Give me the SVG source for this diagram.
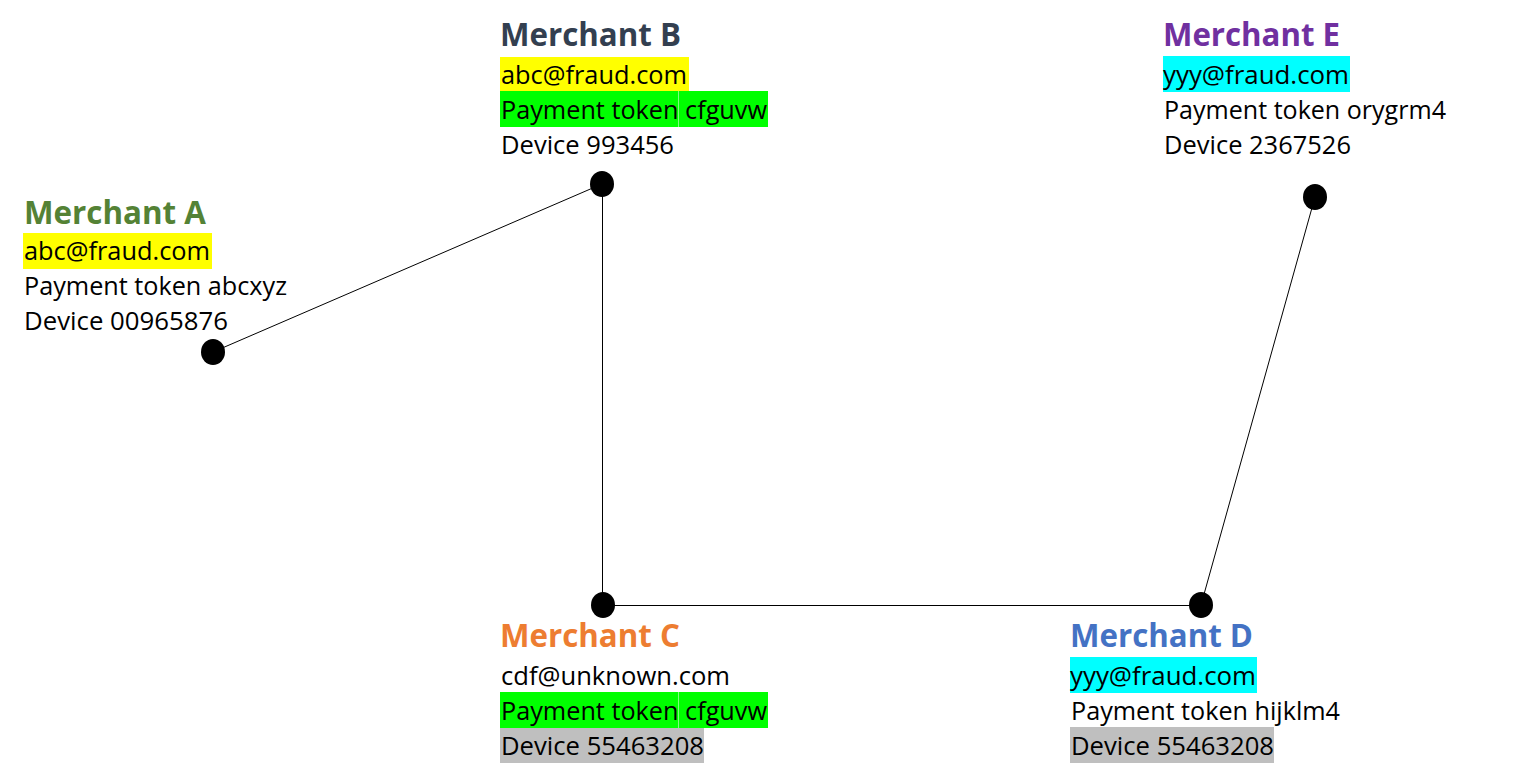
<svg xmlns="http://www.w3.org/2000/svg" width="1536" height="782" viewBox="0 0 1536 782">
<style>
text{font-family:"Open Sans","Noto Sans","Liberation Sans",sans-serif;}
.t{font-size:33px;font-weight:bold;}
.b{font-size:25px;fill:#000;}
.dot{fill:#000;}
.edge{stroke:#000;stroke-width:1;fill:none;}
.hy{fill:#FFFF00;}.hg{fill:#00FF00;}.hc{fill:#00FFFF;}.hs{fill:#BFBFBF;}
</style>
<rect width="1536" height="782" fill="#fff"/>
<g id="connectors">
<line class="edge" x1="213" y1="352" x2="602" y2="184"/>
<line class="edge" x1="602.5" y1="184" x2="602.5" y2="605"/>
<line class="edge" x1="602" y1="605.5" x2="1201" y2="605.5"/>
<line class="edge" x1="1201" y1="605" x2="1315" y2="197"/>
</g>
<g id="merchant-a">
<rect class="hy" x="23" y="233" width="189" height="36"/>
<text class="t" x="24" y="224" fill="#548235" textLength="182" lengthAdjust="spacingAndGlyphs">Merchant A</text>
<text class="b" x="24" y="260" textLength="186" lengthAdjust="spacingAndGlyphs">abc@fraud.com</text>
<text class="b" x="24" y="295" textLength="263" lengthAdjust="spacingAndGlyphs">Payment token abcxyz</text>
<text class="b" x="24" y="330" textLength="204" lengthAdjust="spacingAndGlyphs">Device 00965876</text>
<ellipse class="dot" cx="213" cy="352" rx="12" ry="13"/>
</g>
<g id="merchant-b">
<rect class="hy" x="500" y="57" width="189" height="34"/>
<rect class="hg" x="500" y="91" width="268" height="36"/>
<line x1="678.5" y1="91" x2="678.5" y2="127" stroke="#7fff7f" stroke-width="1"/>
<text class="t" x="500" y="46" fill="#333F50" textLength="181" lengthAdjust="spacingAndGlyphs">Merchant B</text>
<text class="b" x="501" y="84" textLength="186" lengthAdjust="spacingAndGlyphs">abc@fraud.com</text>
<text class="b" x="501" y="119" textLength="266" lengthAdjust="spacingAndGlyphs">Payment token cfguvw</text>
<text class="b" x="501" y="154" textLength="173" lengthAdjust="spacingAndGlyphs">Device 993456</text>
<ellipse class="dot" cx="602" cy="184" rx="12" ry="13"/>
</g>
<g id="merchant-c">
<rect class="hg" x="500" y="692" width="268" height="36"/>
<line x1="678.5" y1="692" x2="678.5" y2="728" stroke="#7fff7f" stroke-width="1"/>
<rect class="hs" x="500" y="728" width="204" height="35"/>
<text class="t" x="500" y="647" fill="#ED7D31" textLength="180" lengthAdjust="spacingAndGlyphs">Merchant C</text>
<text class="b" x="501" y="685" textLength="229" lengthAdjust="spacingAndGlyphs">cdf@unknown.com</text>
<text class="b" x="501" y="720" textLength="266" lengthAdjust="spacingAndGlyphs">Payment token cfguvw</text>
<text class="b" x="501" y="755" textLength="203" lengthAdjust="spacingAndGlyphs">Device 55463208</text>
<ellipse class="dot" cx="603" cy="605" rx="12" ry="13"/>
</g>
<g id="merchant-d">
<rect class="hc" x="1070" y="657" width="187" height="36"/>
<rect class="hs" x="1070" y="727" width="204" height="36"/>
<text class="t" x="1070" y="647" fill="#4472C4" textLength="183" lengthAdjust="spacingAndGlyphs">Merchant D</text>
<text class="b" x="1070" y="685" textLength="186" lengthAdjust="spacingAndGlyphs">yyy@fraud.com</text>
<text class="b" x="1071" y="720" textLength="269" lengthAdjust="spacingAndGlyphs">Payment token hijklm4</text>
<text class="b" x="1071" y="755" textLength="203" lengthAdjust="spacingAndGlyphs">Device 55463208</text>
<ellipse class="dot" cx="1201" cy="605" rx="12" ry="13"/>
</g>
<g id="merchant-e">
<rect class="hc" x="1163" y="56" width="187" height="36"/>
<text class="t" x="1163" y="46" fill="#7030A0" textLength="177" lengthAdjust="spacingAndGlyphs">Merchant E</text>
<text class="b" x="1163" y="84" textLength="186" lengthAdjust="spacingAndGlyphs">yyy@fraud.com</text>
<text class="b" x="1164" y="119" textLength="282" lengthAdjust="spacingAndGlyphs">Payment token orygrm4</text>
<text class="b" x="1164" y="154" textLength="187" lengthAdjust="spacingAndGlyphs">Device 2367526</text>
<ellipse class="dot" cx="1315" cy="197" rx="12" ry="13"/>
</g>
</svg>
